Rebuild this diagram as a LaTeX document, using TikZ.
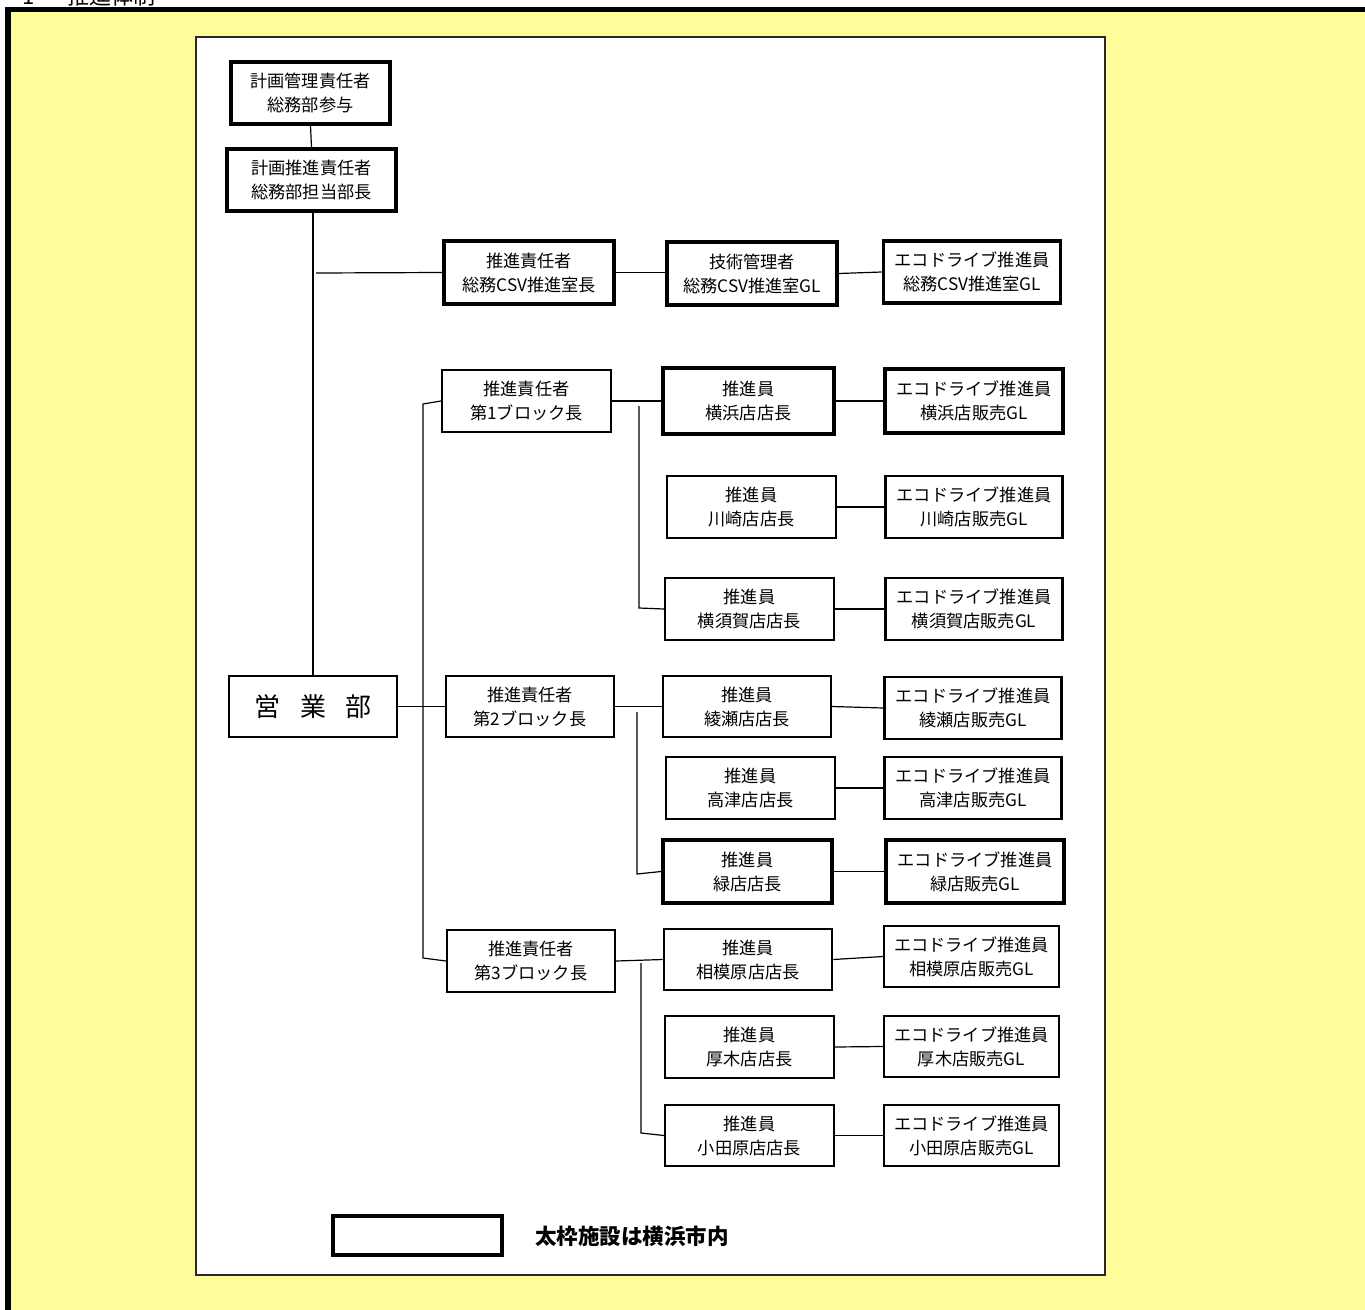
\documentclass[tikz,border=0pt]{standalone}
\usepackage{fontspec}
\setmainfont{Noto Sans CJK JP}
\definecolor{bgyellow}{RGB}{255,253,153}
\definecolor{framegray}{RGB}{40,40,40}
\begin{document}
\begin{tikzpicture}[x=1pt,y=-1pt,
  base/.style={draw=black, rectangle, fill=white, align=center, inner sep=0pt,
    font=\fontsize{17.2}{24}\selectfont},
  thickbox/.style={base, line width=3.6pt},
  medbox/.style={base, line width=2.2pt},
  conn/.style={draw=black, line width=1.2pt},
  wA/.style={minimum width=169pt, minimum height=62pt},
  wB/.style={minimum width=177pt, minimum height=62pt}
]
\useasboundingbox (0,0) rectangle (1365,1309);
\clip (0,0) rectangle (1365,1309);
% outer yellow frame
\path[fill=bgyellow, draw=black, line width=5.5pt] (8,9.5) rectangle (1420,1360);
% cut-off title (cropped at the top edge, as in the reference)
\node[anchor=south west, inner sep=0pt, font=\fontsize{22}{26}\selectfont] (title) at (22,6) {1\hspace{1.5em}推進体制};
% inner white panel
\path[fill=white, draw=framegray, line width=1.8pt] (196,37) rectangle (1105,1275);

% top chain
\node[thickbox, minimum width=159pt, minimum height=62pt] (b1) at (310.5,93) {計画管理責任者\\総務部参与};
\node[thickbox, wA] (b2) at (311.5,180) {計画推進責任者\\総務部担当部長};
\node[thickbox, minimum width=170pt, minimum height=63pt] (c1) at (529,272.5) {推進責任者\\総務CSV推進室長};
\node[thickbox, minimum width=170pt, minimum height=63pt] (c2) at (752,273.5) {技術管理者\\総務CSV推進室GL};
\node[thickbox, wB] (c3) at (972,272) {エコドライブ推進員\\総務CSV推進室GL};

% block 1
\node[medbox, wA] (k1) at (526.5,401) {推進責任者\\第1ブロック長};
\node[thickbox, minimum width=171pt, minimum height=66pt] (y1) at (748.5,401) {推進員\\横浜店店長};
\node[thickbox, minimum width=178pt, minimum height=64pt] (e1) at (974,401) {エコドライブ推進員\\横浜店販売GL};
\node[medbox, wA] (y2) at (751.5,507) {推進員\\川崎店店長};
\node[medbox, wB] (e2) at (974,507) {エコドライブ推進員\\川崎店販売GL};
\node[medbox, wA] (y3) at (749.5,609) {推進員\\横須賀店店長};
\node[medbox, wB] (e3) at (974,609) {エコドライブ推進員\\横須賀店販売GL};

% eigyo and block 2
\node[base, line width=2.8pt, minimum width=168pt, minimum height=61pt, font=\fontsize{26}{30}\selectfont] (eigyo) at (313,706.5) {営\hspace{0.75em}業\hspace{0.75em}部};
\node[medbox, minimum width=168pt, minimum height=61pt] (k2) at (530,706.5) {推進責任者\\第2ブロック長};
\node[medbox, minimum width=168pt, minimum height=61pt] (y4) at (747,706.5) {推進員\\綾瀬店店長};
\node[medbox, wB] (e4) at (973,708) {エコドライブ推進員\\綾瀬店販売GL};
\node[medbox, wA] (y5) at (750.5,788) {推進員\\高津店店長};
\node[medbox, wB] (e5) at (973,788) {エコドライブ推進員\\高津店販売GL};
\node[thickbox, minimum width=169pt, minimum height=63pt] (y6) at (747.5,871.5) {推進員\\緑店店長};
\node[thickbox, minimum width=178pt, minimum height=63pt] (e6) at (975,871.5) {エコドライブ推進員\\緑店販売GL};

% block 3
\node[medbox, minimum width=168pt, minimum height=62pt] (k3) at (531,961) {推進責任者\\第3ブロック長};
\node[medbox, line width=2.6pt, minimum width=168pt, minimum height=61pt] (y7) at (748,959.5) {推進員\\相模原店店長};
\node[medbox, minimum width=175pt, minimum height=61pt] (e7) at (971.5,956.5) {エコドライブ推進員\\相模原店販売GL};
\node[medbox, wA] (y8) at (749.5,1047) {推進員\\厚木店店長};
\node[medbox, minimum width=175pt, minimum height=61pt] (e8) at (971.5,1046.5) {エコドライブ推進員\\厚木店販売GL};
\node[medbox, minimum width=169pt, minimum height=61pt] (y9) at (749.5,1135.5) {推進員\\小田原店店長};
\node[medbox, minimum width=175pt, minimum height=61pt] (e9) at (971.5,1135.5) {エコドライブ推進員\\小田原店販売GL};

% legend
\node[thickbox, minimum width=169pt, minimum height=39pt] (leg) at (417.5,1235.5) {};
\node[anchor=west, inner sep=0pt, font=\fontsize{21.5}{24}\selectfont\bfseries] (legtext) at (535,1236) {太枠施設は横浜市内};

% coordinates
\coordinate (t0) at (316,273);
\coordinate (tA) at (423,404);
\coordinate (tB) at (423,958);
\coordinate (s1a) at (639,406);
\coordinate (s1b) at (639,608);
\coordinate (s2a) at (637,712);
\coordinate (s2b) at (637,874);
\coordinate (s3a) at (641,963);
\coordinate (s3b) at (641,1133);

% connectors
\draw[conn] (b1.south) -- (b2.north);
\draw[conn] (eigyo.north |- b2.south) -- (eigyo.north);
\draw[conn] (t0) -- (c1.west);
\draw[conn] (c1.east) -- (c2.west |- c1.east);
\draw[conn] (c2.east) -- (c3.west);
\draw[conn] (k1.west) -- (tA) -- (tB) -- (k3.west);
\draw[conn] (eigyo.east) -- (k2.west);
\draw[conn] (k1.east) -- (y1.west);
\draw[conn] (s1a) -- (s1b) -- (y3.west);
\draw[conn] (k2.east) -- (y4.west);
\draw[conn] (s2a) -- (s2b) -- (y6.west);
\draw[conn] (k3.east) -- (y7.west);
\draw[conn] (s3a) -- (s3b) -- (y9.west);
\draw[conn] (y1.east) -- (e1.west);
\draw[conn] (y2.east) -- (e2.west);
\draw[conn] (y3.east) -- (e3.west);
\draw[conn] (y4.east) -- (e4.west);
\draw[conn] (y5.east) -- (e5.west);
\draw[conn] (y6.east) -- (e6.west);
\draw[conn] (y7.east) -- (e7.west);
\draw[conn] (y8.east) -- (e8.west);
\draw[conn] (y9.east) -- (e9.west);
\end{tikzpicture}
\end{document}
